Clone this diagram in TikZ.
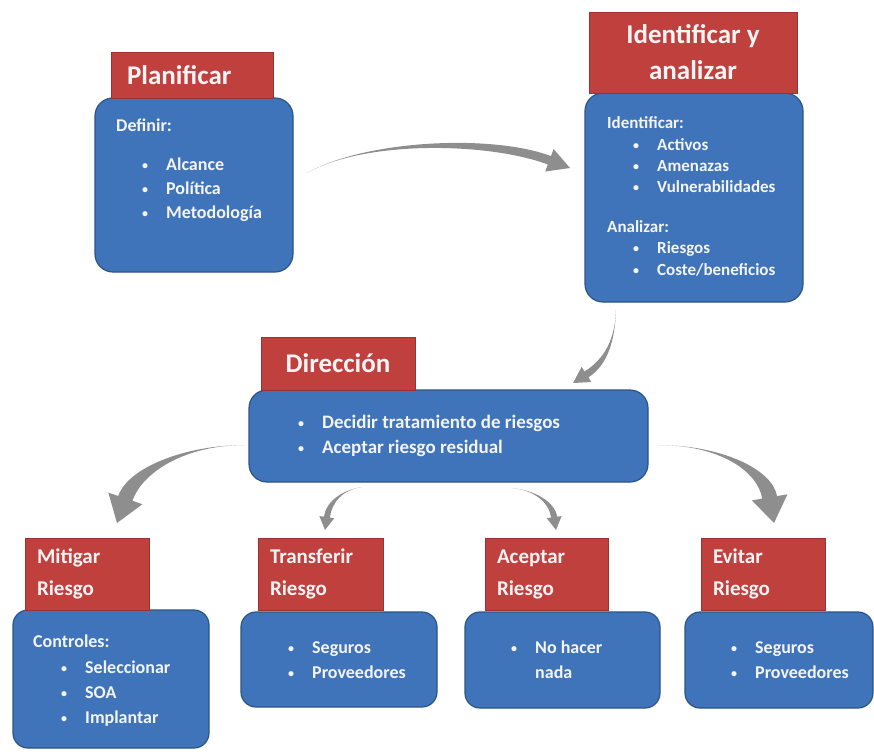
\documentclass[tikz,border=0pt]{standalone}
\usepackage{fontspec}
\setmainfont{Carlito}
\usetikzlibrary{calc}
\definecolor{boxBlue}{HTML}{3F74BA}
\definecolor{boxEdge}{HTML}{2B5584}
\definecolor{titleRed}{HTML}{C0403E}
\definecolor{titleEdge}{HTML}{9A3230}
\definecolor{arrowGray}{HTML}{8E8E8E}
\definecolor{textLight}{HTML}{F4F4F4}

% bullet hanging to the left of an item
\newcommand{\bul}{\llap{\raisebox{1pt}{\fontsize{12}{12}\selectfont\textbullet}\hspace{18pt}}}

% curved arrow whose shaft widens towards the head
% #1 start, #2 #3 controls, #4 tip, #5 half shaft, #6 half head, #7 head length
\newcommand{\fatarrow}[7]{%
  \fill[arrowGray]
    ($(#4)!#7!(#3)$) coordinate (hb)
    (#1) .. controls (#2) and ($(#3)!#5!90:(#4)$) .. ($(hb)!#5!90:(#4)$)
    -- ($(hb)!#6!90:(#4)$) -- (#4) -- ($(hb)!#6!-90:(#4)$)
    -- ($(hb)!#5!-90:(#4)$) .. controls ($(#3)!#5!-90:(#4)$) and (#2) .. (#1) -- cycle;
}

\begin{document}
\begin{tikzpicture}[
    x=1pt, y=-1pt,
    panel/.style={draw=boxEdge, fill=boxBlue, line width=1.2pt, rounded corners=18pt, inner sep=0pt},
    tab/.style={draw=titleEdge, fill=titleRed, line width=0.6pt, inner sep=0pt, text=textLight},
    toptitle/.style={tab, align=center, font=\bfseries\fontsize{27}{36}\selectfont},
    subtitle/.style={tab, align=left, font=\bfseries\fontsize{21}{32}\selectfont},
    line/.style={anchor=base west, inner sep=0pt, text=textLight, font=\bfseries\fontsize{18}{22}\selectfont},
    small line/.style={line, font=\bfseries\fontsize{17}{21}\selectfont},
  ]
  \useasboundingbox (0,0) rectangle (874,755);

  % Top row
  \node[panel, minimum width=198pt, minimum height=174pt] (plan) at (194,185) {};
  \node[toptitle, align=left, text width=130pt, minimum width=162pt, minimum height=46pt] (plan-t) at (192,75) {Planificar};
  \node[line] (plan-0) at (116,131) {Definir:};
  \foreach \t [count=\i] in {Alcance,Política,Metodología}
    \node[line] (plan-\i) at (166,{146+24*\i}) {\bul\t};

  \node[panel, minimum width=218pt, minimum height=209pt] (ident) at (694,197.5) {};
  \node[toptitle, minimum width=208pt, minimum height=81pt] (ident-t) at (693,52.5) {Identificar y\\analizar};
  \node[small line] (ident-0) at (607,128) {Identificar:};
  \foreach \t [count=\i] in {Activos,Amenazas,Vulnerabilidades}
    \node[small line] (ident-\i) at (657,{129+21*\i}) {\bul\t};
  \node[small line] (anal-0) at (607,232) {Analizar:};
  \foreach \t [count=\i] in {Riesgos,Coste/beneficios}
    \node[small line] (anal-\i) at (657,{232+21.5*\i}) {\bul\t};

  % Middle
  \node[panel, minimum width=399pt, minimum height=92pt] (dir) at (448.5,436) {};
  \node[toptitle, minimum width=154pt, minimum height=53pt] (dir-t) at (338,363.5) {Dirección};
  \node[line, font=\bfseries\fontsize{19}{22}\selectfont] (dir-1) at (322,428) {\bul Decidir tratamiento de riesgos};
  \node[line, font=\bfseries\fontsize{19}{22}\selectfont] (dir-2) at (322,453) {\bul Aceptar riesgo residual};

  % Bottom row
  \node[panel, rounded corners=15pt, minimum width=196pt, minimum height=138pt] (mit) at (111,679) {};
  \node[subtitle, minimum width=124pt, minimum height=72pt, text width=100pt] (mit-t) at (87,574) {Mitigar\\Riesgo};
  \node[line] (mit-0) at (33,647) {Controles:};
  \foreach \t [count=\i] in {Seleccionar,SOA,Implantar}
    \node[line] (mit-\i) at (85,{648+25*\i}) {\bul\t};

  \node[panel, rounded corners=15pt, minimum width=196pt, minimum height=95pt] (trans) at (339,659.5) {};
  \node[subtitle, minimum width=125pt, minimum height=72pt, text width=101pt] (trans-t) at (320.5,574) {Transferir\\Riesgo};
  \node[line] (trans-1) at (312,653) {\bul Seguros};
  \node[line] (trans-2) at (312,678) {\bul Proveedores};

  \node[panel, rounded corners=15pt, minimum width=195pt, minimum height=96pt] (acep) at (562.5,660) {};
  \node[subtitle, minimum width=123pt, minimum height=72pt, text width=99pt] (acep-t) at (546.5,574) {Aceptar\\Riesgo};
  \node[line] (acep-1) at (535,653) {\bul No hacer};
  \node[line] (acep-2) at (535,678) {nada};

  \node[panel, rounded corners=15pt, minimum width=188pt, minimum height=96pt] (evit) at (779,660) {};
  \node[subtitle, minimum width=124pt, minimum height=72pt, text width=100pt] (evit-t) at (763,574) {Evitar\\Riesgo};
  \node[line] (evit-1) at (755,653) {\bul Seguros};
  \node[line] (evit-2) at (755,678) {\bul Proveedores};

  % Arrows
  \coordinate (a1-from) at (307,173);  \coordinate (a1-to) at (570,168);
  \coordinate (a2-from) at (616,310);  \coordinate (a2-to) at (573,383);
  \coordinate (a3-from) at (245,445);  \coordinate (a3-to) at (117,523);
  \coordinate (a4-from) at (362,487);  \coordinate (a4-to) at (325,530);
  \coordinate (a5-from) at (512,488);  \coordinate (a5-to) at (556,530);
  \coordinate (a6-from) at (658,445);  \coordinate (a6-to) at (774,523);

  \fatarrow{a1-from}{365,140}{490,138}{a1-to}{4.5pt}{12pt}{22pt}
  \fatarrow{a2-from}{615,340}{606,362}{a2-to}{3.5pt}{9pt}{16pt}
  \fatarrow{a3-from}{185,445}{135,470}{a3-to}{7.5pt}{18pt}{26pt}
  \fatarrow{a4-from}{342,490}{329,502}{a4-to}{3pt}{7.5pt}{13pt}
  \fatarrow{a5-from}{534,490}{552,502}{a5-to}{3pt}{7.5pt}{13pt}
  \fatarrow{a6-from}{720,445}{765,470}{a6-to}{7.5pt}{18pt}{26pt}
\end{tikzpicture}
\end{document}
